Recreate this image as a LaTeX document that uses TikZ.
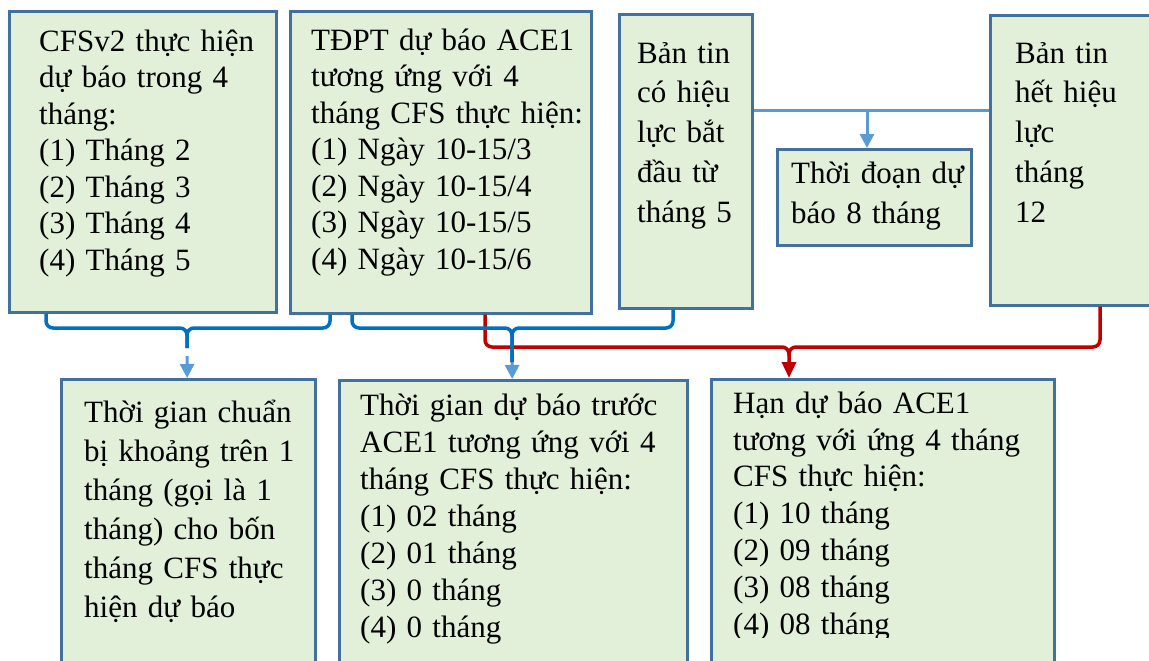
\documentclass[tikz,border=0pt]{standalone}
\usepackage{fontspec}
\setmainfont{Liberation Serif}
\usetikzlibrary{arrows.meta,positioning,calc}
\definecolor{boxfill}{HTML}{E2EFD9}
\definecolor{boxline}{HTML}{41719C}
\definecolor{bracebl}{HTML}{0070C0}
\definecolor{arrbl}{HTML}{5B9BD5}
\definecolor{bracerd}{HTML}{C00000}

\begin{document}
\begin{tikzpicture}
[x=1pt,y=-1pt,
 box/.style={draw=boxline,fill=boxfill,line width=2.6pt,inner sep=0pt,anchor=north west},
 txt/.style={anchor=north west,inner sep=0pt,align=left,text width=#1,
   font=\fontsize{31}{36.5}\selectfont,execute at begin node=\rule{0pt}{32pt}},
 wide/.style={font=\fontsize{31}{39.8}\selectfont},
 bl/.style={draw=bracebl,line width=3.5pt,rounded corners=7pt},
 rd/.style={draw=bracerd,line width=3.5pt,rounded corners=7pt},
 lb/.style={draw=arrbl,line width=3pt},
 tip/.style={-{Triangle[length=14pt,width=14pt]}}]
\useasboundingbox (0,0) rectangle (1149,661);
\clip (0,0) rectangle (1149,661);

% top row
\node[box,minimum width=267pt,minimum height=301pt] (cfs) at (8,10) {};
\node[box,minimum width=301pt,minimum height=302pt] (tdpt) at (289,10) {};
\node[box,minimum width=133pt,minimum height=294pt] (hl) at (618,13) {};
\node[box,minimum width=194pt,minimum height=96pt] (td) at (776,148) {};
\node[box,minimum width=200pt,minimum height=290pt] (hh) at (989,14) {};
% bottom row
\node[box,minimum width=254pt,minimum height=320pt] (cb) at (60,378) {};
\node[box,minimum width=348pt,minimum height=320pt] (tr) at (338,379) {};
\node[box,minimum width=343pt,minimum height=320pt] (hd) at (710,378) {};

\node[txt=240pt] (cfs-t) at ([shift={(31,9)}]cfs.north west)
  {CFSv2 thực hiện\\dự báo trong 4\\tháng:\\(1) Tháng 2\\(2) Tháng 3\\(3) Tháng 4\\(4) Tháng 5};
\node[txt=280pt] (tdpt-t) at ([shift={(22,8)}]tdpt.north west)
  {TĐPT dự báo ACE1\\tương ứng với 4\\tháng CFS thực hiện:\\(1) Ngày 10-15/3\\(2) Ngày 10-15/4\\(3) Ngày 10-15/5\\(4) Ngày 10-15/6};
\node[txt=120pt,wide] (hl-t) at ([shift={(19,18)}]hl.north west)
  {Bản tin\\có hiệu\\lực bắt\\đầu từ\\tháng 5};
\node[txt=180pt,wide] (td-t) at ([shift={(15,3)}]td.north west)
  {Thời đoạn dự\\báo 8 tháng};
\node[txt=140pt,wide] (hh-t) at ([shift={(26,17)}]hh.north west)
  {Bản tin\\hết hiệu\\lực\\tháng\\12};
\node[txt=240pt,font=\fontsize{31}{39}\selectfont] (cb-t) at ([shift={(24,12)}]cb.north west)
  {Thời gian chuẩn\\bị khoảng trên 1\\tháng (gọi là 1\\tháng) cho bốn\\tháng CFS thực\\hiện dự báo};
\node[txt=330pt,font=\fontsize{31}{37}\selectfont] (tr-t) at ([shift={(22,4)}]tr.north west)
  {Thời gian dự báo trước\\ACE1 tương ứng với 4\\tháng CFS thực hiện:\\(1) 02 tháng\\(2) 01 tháng\\(3) 0 tháng\\(4) 0 tháng};
\begin{scope}
\clip (700,370) rectangle (1060,637);
\node[txt=320pt,font=\fontsize{31}{36.8}\selectfont] (hd-t) at ([shift={(23,3)}]hd.north west)
  {Hạn dự báo ACE1\\tương với ứng 4 tháng\\CFS thực hiện:\\(1) 10 tháng\\(2) 09 tháng\\(3) 08 tháng\\(4) 08 tháng};
\end{scope}

% link between the two bulletins
\coordinate (c1) at (867,110);
\draw[lb] (hl.east |- c1) -- (hh.west |- c1);
\draw[lb,tip] (c1) -- (c1 |- td.north);

% braces below the top row
\draw[bl] ([xshift=38]cfs.south west) |- (187,328) -- (187,348);
\draw[bl] ([xshift=41]tdpt.south west) |- (187,328) -- (187,348);
\coordinate (a1) at (187,356);
\draw[lb,tip] (a1) -- (cb);

\coordinate (r1) at (789,347);
\draw[rd] ([xshift=196]tdpt.south west) |- (r1) -- (789,356);
\draw[rd,-{Triangle[length=16pt,width=14pt]}] ([xshift=111]hh.south west) |- (r1) -- (r1 |- hd.north);

\coordinate (a2) at (512,350);
\draw[lb,tip] (a2) -- (tr);
\draw[bl] ([xshift=63]tdpt.south west) |- (512,328) -- (512,362);
\draw[bl] ([xshift=55]hl.south west) |- (512,328) -- (512,362);
\end{tikzpicture}
\end{document}
